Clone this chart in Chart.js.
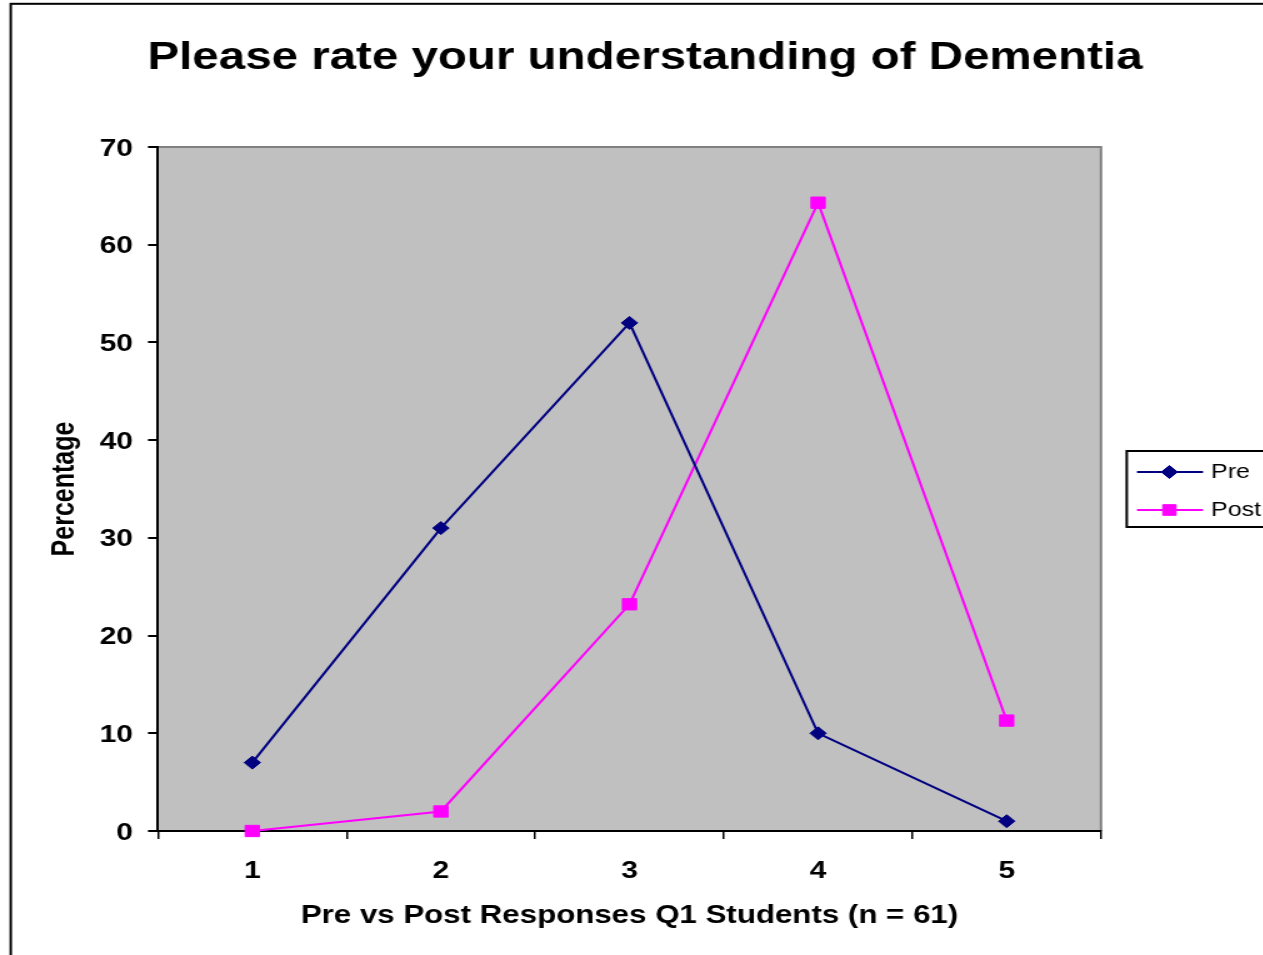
<!DOCTYPE html>
<html><head><meta charset="utf-8">
<script src="https://cdn.jsdelivr.net/npm/chart.js@4.4.0/dist/chart.umd.min.js"></script>
<style>
html,body{margin:0;padding:0;overflow:hidden;background:#fff;width:1263px;height:955px;}
#wrap{position:absolute;left:0;top:0;transform:scaleX(1.25);transform-origin:0 0;}
canvas{display:block;}
</style></head><body>
<div id="wrap"><canvas id="c" width="1032" height="955"></canvas></div>
<script>
// ---- data ----
const categories = ['1', '2', '3', '4', '5'];
const preValues = [7, 31, 52, 10, 1];
const postValues = [0, 2, 23.2, 64.3, 11.3];
const seriesNames = ['Pre', 'Post'];
const yMin = 0, yMax = 70, yStep = 10;
const chartTitle = 'Please rate your understanding of Dementia';
const xTitle = 'Pre vs Post Responses Q1 Students (n = 61)';
const yTitle = 'Percentage';

const FONT = '"Liberation Sans", Arial, Helvetica, sans-serif';

const decor = {
  id: 'decor',
  beforeDraw(chart) {
    const ctx = chart.ctx, a = chart.chartArea;
    ctx.save();
    ctx.fillStyle = '#ffffff';
    ctx.fillRect(0, 0, chart.width, chart.height);
    ctx.strokeStyle = '#000000';
    ctx.lineWidth = 2;
    ctx.strokeRect(8.6, 3.8, 3000, 3000);
    ctx.fillStyle = '#C0C0C0';
    ctx.fillRect(a.left, a.top, a.right - a.left, a.bottom - a.top);
    ctx.strokeStyle = '#808080';
    ctx.lineWidth = 2;
    ctx.beginPath();
    ctx.moveTo(a.left, a.top);
    ctx.lineTo(a.right, a.top);
    ctx.lineTo(a.right, a.bottom);
    ctx.stroke();
    ctx.restore();
  },
  afterDraw(chart) {
    const ctx = chart.ctx;
    ctx.save();
    ctx.strokeStyle = '#000';
    ctx.lineWidth = 2;
    ctx.strokeRect(901.4, 451, 400, 76);
    chart.data.datasets.forEach((ds, i) => {
      const y = 472 + i * 38;
      ctx.strokeStyle = ds.borderColor;
      ctx.lineWidth = 2;
      ctx.beginPath();
      ctx.moveTo(909.6, y);
      ctx.lineTo(962.4, y);
      ctx.stroke();
      ctx.fillStyle = ds.pointBackgroundColor;
      ctx.strokeStyle = ds.pointBorderColor;
      ctx.lineWidth = 1;
      Chart.helpers.drawPoint(ctx, {pointStyle: ds.pointStyle, radius: ds.pointStyle === 'rect' ? 7.5 : 6.5, borderWidth: 1, rotation: 0}, 935.5, y);
      ctx.fillStyle = '#000';
      ctx.font = '20px ' + FONT;
      ctx.textAlign = 'left';
      ctx.textBaseline = 'middle';
      ctx.fillText(ds.label, 968.8, y);
    });
    ctx.restore();
  }
};

new Chart(document.getElementById('c'), {
  type: 'line',
  data: {
    labels: categories,
    datasets: [
      {
        label: seriesNames[0], data: preValues,
        borderColor: '#000080', backgroundColor: '#000080',
        pointBackgroundColor: '#000080', pointBorderColor: '#000080',
        borderWidth: 2, pointStyle: 'rectRot', pointRadius: 6.5, pointBorderWidth: 1,
        tension: 0, clip: false, yAxisID: 'y'
      },
      {
        label: seriesNames[1], data: postValues,
        borderColor: '#FF00FF', backgroundColor: '#FF00FF',
        pointBackgroundColor: '#FF00FF', pointBorderColor: '#FF00FF',
        borderWidth: 2, pointStyle: 'rect', pointRadius: 8, pointBorderWidth: 1,
        tension: 0, clip: false, yAxisID: 'y'
      }
    ]
  },
  options: {
    responsive: false,
    animation: false,
    devicePixelRatio: 1,
    layout: { padding: 0 },
    plugins: {
      legend: { display: false },
      tooltip: { enabled: false },
      title: {
        display: true, text: chartTitle, color: '#000',
        font: { family: FONT, size: 38, weight: 'bold' },
        padding: { top: 36, bottom: 65.4 }
      }
    },
    scales: {
      x: {
        type: 'category', offset: true,
        grid: { offset: true, drawOnChartArea: false, drawTicks: true, tickLength: 8, color: '#000', lineWidth: 1.5 },
        border: { display: true, color: '#000', width: 2 },
        ticks: { color: '#000', padding: 18, font: { family: FONT, size: 24, weight: 'bold' }, maxRotation: 0 },
        title: { display: true, text: xTitle, color: '#000', font: { family: FONT, size: 25, weight: 'bold' }, padding: { top: 0, bottom: 24 } },
        afterFit(s) { s.height = 124; }
      },
      y: {
        position: 'left', min: yMin, max: yMax,
        grid: { drawOnChartArea: false, drawTicks: true, tickLength: 8, color: '#000', lineWidth: 2 },
        border: { display: true, color: '#000', width: 2 },
        ticks: { stepSize: yStep, color: '#000', padding: 12, labelOffset: 2, font: { family: FONT, size: 24, weight: 'bold' } },
        title: { display: true, text: yTitle, color: '#000', font: { family: FONT, size: 25, weight: 'bold' }, padding: { top: 37.6, bottom: 0 } },
        afterFit(s) { s.width = 126.4; }
      },
      yR: {
        position: 'right', display: true,
        grid: { display: false }, border: { display: false }, ticks: { display: false },
        afterFit(s) { s.width = 151.2; }
      }
    }
  },
  plugins: [decor]
});
</script>
</body></html>
